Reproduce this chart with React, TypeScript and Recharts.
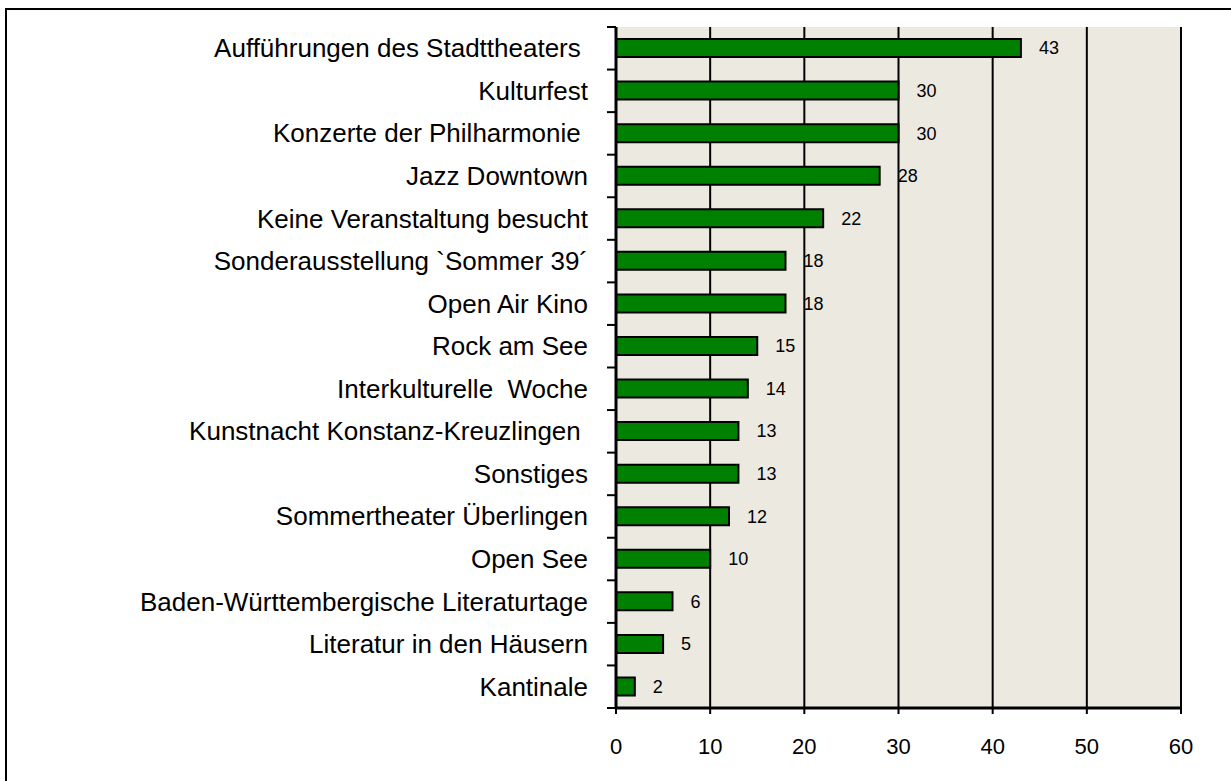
import { BarChart, Bar, XAxis, YAxis, CartesianGrid, LabelList } from 'recharts';

// Event names (top to bottom) and counts
const categories = [
  'Aufführungen des Stadttheaters ',
  'Kulturfest',
  'Konzerte der Philharmonie ',
  'Jazz Downtown',
  'Keine Veranstaltung besucht',
  'Sonderausstellung `Sommer 39´',
  'Open Air Kino',
  'Rock am See',
  'Interkulturelle  Woche',
  'Kunstnacht Konstanz-Kreuzlingen ',
  'Sonstiges',
  'Sommertheater Überlingen',
  'Open See',
  'Baden-Württembergische Literaturtage',
  'Literatur in den Häusern',
  'Kantinale',
];
const values = [43, 30, 30, 28, 22, 18, 18, 15, 14, 13, 13, 12, 10, 6, 5, 2];
const xTicks = [0, 10, 20, 30, 40, 50, 60];

const data = categories.map((name, i) => ({ name, value: values[i] }));

const W = 1231;
const H = 781;
const PLOT_LEFT = 616;
const PLOT_TOP = 27;
const PLOT_RIGHT = 1181;
const PLOT_BOTTOM = 708;
const BAND = (PLOT_BOTTOM - PLOT_TOP) / categories.length;
const FONT = "Arial, 'Liberation Sans', sans-serif";

function CategoryTick(props: any) {
  const { x, y, payload, index } = props;
  const last = index === categories.length - 1;
  return (
    <g>
      <line x1={PLOT_LEFT - 9} x2={PLOT_LEFT} y1={y - BAND / 2} y2={y - BAND / 2} stroke="#000" strokeWidth={2} />
      {last && (
        <line x1={PLOT_LEFT - 9} x2={PLOT_LEFT} y1={y + BAND / 2} y2={y + BAND / 2} stroke="#000" strokeWidth={2} />
      )}
      <text
        x={x}
        y={y}
        textAnchor="end"
        dominantBaseline="central"
        fontSize={26}
        fontFamily={FONT}
        fill="#000"
        style={{ whiteSpace: 'pre' }}
      >
        {payload.value}
      </text>
    </g>
  );
}

export default function App() {
  return (
    <div
      style={{
        position: 'absolute',
        left: 0,
        top: 0,
        width: W,
        height: H,
        overflow: 'hidden',
        background: '#fff',
      }}
    >
      <div
        style={{
          position: 'absolute',
          left: 5,
          top: 8,
          width: W + 50,
          height: H + 50,
          border: '2px solid #000',
        }}
      />
      <div style={{ position: 'absolute', left: 0, top: 0 }}>
        <BarChart
          width={W}
          height={H}
          data={data}
          layout="vertical"
          margin={{ top: PLOT_TOP, right: W - PLOT_RIGHT, left: 0, bottom: 0 }}
        >
          <CartesianGrid
            horizontal={false}
            vertical={true}
            stroke="#000"
            strokeWidth={2}
            fill="#ECE9E0"
            fillOpacity={1}
          />
          <XAxis
            type="number"
            domain={[0, 60]}
            ticks={xTicks}
            height={H - PLOT_BOTTOM}
            axisLine={{ stroke: '#000', strokeWidth: 3 }}
            tickLine={{ stroke: '#000', strokeWidth: 2 }}
            tickSize={6}
            tickMargin={24}
            tick={{ fill: '#000', fontSize: 22, fontFamily: FONT }}
          />
          <YAxis
            type="category"
            dataKey="name"
            width={PLOT_LEFT}
            axisLine={{ stroke: '#000', strokeWidth: 3 }}
            tickLine={false}
            tickSize={0}
            tickMargin={28}
            interval={0}
            tick={<CategoryTick />}
          />
          <Bar
            dataKey="value"
            barSize={18}
            fill="#008000"
            stroke="#000"
            strokeWidth={2}
            isAnimationActive={false}
          >
            <LabelList
              dataKey="value"
              position="right"
              offset={18}
              fill="#000"
              fontSize={18}
              fontFamily={FONT}
            />
          </Bar>
        </BarChart>
      </div>
    </div>
  );
}
